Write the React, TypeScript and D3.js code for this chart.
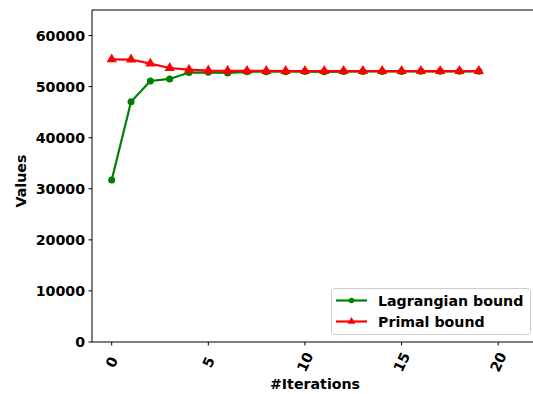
import React from "react";
import * as d3 from "d3";

const iterations = [0, 1, 2, 3, 4, 5, 6, 7, 8, 9, 10, 11, 12, 13, 14, 15, 16, 17, 18, 19];
const lagrangian = [31700, 47050, 51100, 51500, 52750, 52800, 52680, 52900, 52920, 52930, 52940, 52900, 52950, 52960, 52970, 52980, 52990, 53000, 53000, 53000];
const primal = [55330, 55300, 54500, 53650, 53320, 53150, 53100, 53080, 53070, 53060, 53060, 53050, 53050, 53050, 53050, 53050, 53050, 53050, 53050, 53050];
const xTicks = [0, 5, 10, 15, 20];
const yTicks = [0, 10000, 20000, 30000, 40000, 50000, 60000];
const seriesNames = ["Lagrangian bound", "Primal bound"];

const W = 533, H = 394;
const left = 92, top = 10, bottom = 342, right = 560;
const FS = 14.2;

export default function App() {
  const x = d3.scaleLinear().domain([-1.02, 23.2]).range([left, right]);
  const y = d3.scaleLinear().domain([0, 65000]).range([bottom, top]);
  const line = d3.line<number>().x((_, i) => x(iterations[i])).y((d) => y(d));
  const font = "DejaVu Sans, sans-serif";
  const tri = d3.symbol().type(d3.symbolTriangle).size(46)();
  return (
    <svg width={W} height={H} style={{ position: "absolute", left: 0, top: 0, background: "#fff" }} fontFamily={font} fontWeight="bold">
      <rect width={W} height={H} fill="#fff" />
      {/* spines */}
      <line x1={left} x2={W} y1={top} y2={top} stroke="#000" strokeWidth={1} />
      <line x1={left} x2={left} y1={top} y2={bottom} stroke="#000" strokeWidth={1} />
      <line x1={left} x2={W} y1={bottom} y2={bottom} stroke="#000" strokeWidth={1} />
      {yTicks.map((t) => (
        <g key={t}>
          <line x1={left - 3.5} x2={left} y1={y(t)} y2={y(t)} stroke="#000" />
          <text x={left - 7} y={y(t)} dy="0.36em" textAnchor="end" fontSize={FS}>{t}</text>
        </g>
      ))}
      {xTicks.map((t) => (
        <g key={t}>
          <line x1={x(t)} x2={x(t)} y1={bottom} y2={bottom + 3.5} stroke="#000" />
          <text transform={`translate(${x(t)},${362}) rotate(-65)`} textAnchor="middle" dy="0.36em" fontSize={FS}>{t}</text>
        </g>
      ))}
      <text x={315} y={389} textAnchor="middle" fontSize={FS}>#Iterations</text>
      <text transform={`translate(26,181) rotate(-90)`} textAnchor="middle" fontSize={FS}>Values</text>
      {/* series */}
      <path d={line(lagrangian) || ""} fill="none" stroke="green" strokeWidth={2.2} />
      {lagrangian.map((v, i) => (
        <circle key={i} cx={x(iterations[i])} cy={y(v)} r={3.5} fill="green" />
      ))}
      <path d={line(primal) || ""} fill="none" stroke="red" strokeWidth={2.2} />
      {primal.map((v, i) => (
        <path key={i} d={tri || ""} transform={`translate(${x(iterations[i])},${y(v)})`} fill="red" />
      ))}
      {/* legend */}
      <rect x={331.5} y={288.5} width={199} height={46} rx={3} fill="#fff" fillOpacity={0.8} stroke="#ccc" />
      <line x1={336} x2={367} y1={300.5} y2={300.5} stroke="green" strokeWidth={2.2} />
      <circle cx={351.5} cy={300.5} r={2.7} fill="green" />
      <text x={378} y={300.5} dy="0.36em" fontSize={FS}>{seriesNames[0]}</text>
      <line x1={336} x2={367} y1={321.5} y2={321.5} stroke="red" strokeWidth={2.2} />
      <path d={d3.symbol().type(d3.symbolTriangle).size(26)() || ""} transform="translate(351.5,321.5)" fill="red" />
      <text x={378} y={321.5} dy="0.36em" fontSize={FS}>{seriesNames[1]}</text>
    </svg>
  );
}
